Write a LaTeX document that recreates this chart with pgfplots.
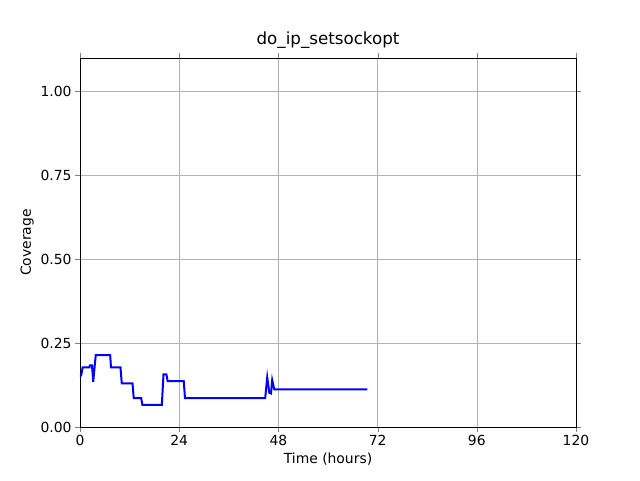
\documentclass[border=0pt]{standalone}
\usepackage{pgfplots}
\pgfplotsset{compat=1.18}
\usepackage{fontspec}
\setmainfont{DejaVu Sans}
\begin{document}
\begin{tikzpicture}
\path (-80pt,-53pt) rectangle (560pt,427pt);
\begin{axis}[at={(0,0)},anchor=origin,scale only axis,width=496pt,height=369pt,
xmin=0,xmax=120,ymin=0,ymax=1.1,
xtick={0,24,48,72,96,120},ytick={0,0.25,0.5,0.75,1},
yticklabel style={/pgf/number format/.cd,fixed,fixed zerofill,precision=2},
/pgf/number format/assume math mode=true,
ticklabel style={font=\fontsize{13.9}{16}\selectfont},
grid=major,grid style={gray!60},
title={do\_ip\_setsockopt},title style={font=\fontsize{16.7}{19}\selectfont},
xlabel={Time (hours)},ylabel={Coverage},
label style={font=\fontsize{13.9}{16}\selectfont},
tick align=outside,major tick length=5pt]
\addplot[blue,line width=2pt] coordinates {
(0,0.15)(0.3,0.155)(0.65,0.178)(2.3,0.178)(2.4,0.184)(2.9,0.184)(3.2,0.135)(3.8,0.214)
(7.3,0.214)(7.5,0.178)(9.8,0.178)(10.1,0.13)(12.7,0.13)(13.0,0.086)(14.8,0.086)(15.1,0.066)
(19.8,0.066)(20.2,0.157)(20.9,0.157)(21.2,0.137)(25.1,0.137)(25.4,0.086)(44.8,0.086)
(45.3,0.148)(45.8,0.102)(46.2,0.100)(46.5,0.14)(47,0.112)(69.5,0.112)};
\end{axis}
\end{tikzpicture}
\end{document}
